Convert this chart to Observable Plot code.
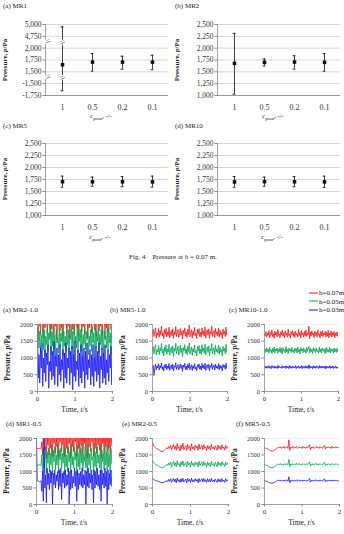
<!DOCTYPE html>
<html><head><meta charset="utf-8">
<script src="https://cdn.jsdelivr.net/npm/d3@7"></script>
<script src="https://cdn.jsdelivr.net/npm/@observablehq/plot@0.6"></script>
<style>
body{margin:0;background:#fff;}
#root{position:relative;width:344px;height:534px;overflow:hidden;font-family:"Liberation Serif",serif;color:#222;}
.abs{position:absolute;white-space:nowrap;line-height:1;}
.plot{position:absolute;}
.plot svg{overflow:visible;}
</style></head><body><div id="root"></div>
<script>
// ---------- Fig. 4 : pressure at h = 0.07 m ----------
const cpour = ["1", "0.5", "0.2", "0.1"];
const mr1Ticks = [-1750, -1500, 1500, 1750, 2000, 4750, 5000];
const mr1Mean  = [1650, 1705, 1705, 1705];
const mr1Upper = [4950, 1885, 1830, 1850];
const mr1Lower = [-1650, 1515, 1555, 1545];
const mrTicks  = [1000, 1250, 1500, 1750, 2000, 2250, 2500];
const mr2Mean  = [1680, 1700, 1707, 1700];
const mr2Upper = [2312, 1771, 1840, 1884];
const mr2Lower = [1028, 1623, 1557, 1514];
const mr5Mean  = [1705, 1702, 1702, 1700];
const mr5Upper = [1820, 1800, 1810, 1820];
const mr5Lower = [1590, 1610, 1600, 1590];
const mr10Mean  = [1700, 1705, 1702, 1700];
const mr10Upper = [1810, 1800, 1810, 1820];
const mr10Lower = [1590, 1610, 1600, 1585];
const fig4Titles = ["(a) MR1", "(b) MR2", "(c) MR5", "(d) MR10"];

// ---------- time series (0–2 s, evenly sampled), pressure in Pa ----------
const seriesNames = ["h=0.07m", "h=0.05m", "h=0.03m"];
const seriesColors = ["#ff1010", "#00a650", "#1414ff"];
const timeTicks = [0, 1, 2];
const pressTicks = [0, 500, 1000, 1500, 2000];
const fig5Titles = ["(a) MR2-1.0", "(b) MR5-1.0", "(c) MR10-1.0", "(d) MR1-0.5", "(e) MR2-0.5", "(f) MR5-0.5"];

const mr2_10_h07 = [1800,2300,1950,2450,1700,2200,2050,2400,1600,2350,1900,2150,2500,1750,2250,2000,2400,1650,2300,1850,
2450,2100,1700,2350,1950,2250,1550,2400,2050,2200,1800,2500,1900,2300,1650,2150,2400,2000,2350,1750,
2250,1950,2450,1600,2300,2100,2400,1850,2200,1700,2450,2000,2300,1900,2500,1650,2250,2100,2400,1800,
2350,1950,2150,1700,2450,2050,2300,1600,2400,1900,2200,2500,1750,2300,2000,2450,1850,2250,1650,2400,
2100,2350,1800,2200,1950,2500,1700,2300,2050,2400,1600,2250,1900,2450,1750,2350,2000,2200,1850,2400,1800];
const mr2_10_h05 = [1600,1950,1300,1800,1150,1700,1450,2000,1250,1850,1050,1650,1400,1900,1200,1750,1550,2050,1100,1800,
1350,1950,1250,1700,1000,1850,1450,1600,1150,2000,1300,1750,1500,1900,1050,1800,1350,1650,1200,1950,
1400,1850,1100,1700,1550,2000,1250,1800,1000,1900,1450,1650,1300,2050,1150,1750,1500,1850,1200,1950,
1050,1700,1400,1900,1250,1800,1550,2000,1100,1650,1350,1850,1200,1950,1450,1750,1000,1900,1300,1800,
1500,2000,1150,1700,1400,1850,1250,1950,1050,1800,1550,1650,1300,1900,1200,2050,1450,1750,1100,1850,1500];
const mr2_10_h03 = [1900,400,1100,250,1300,700,1450,150,1000,550,1250,300,1150,800,1400,100,900,600,1350,350,
1200,450,1500,200,1050,750,1300,150,1100,500,1400,300,950,650,1250,100,1150,400,1450,250,
1000,700,1300,200,1200,550,1350,50,1100,450,1500,300,900,650,1250,150,1150,400,1400,250,
1050,600,1300,100,1200,500,1450,350,950,700,1250,200,1100,450,1400,150,1000,600,1350,300,
1200,500,1450,100,1050,650,1300,250,1150,400,1400,200,950,550,1250,300,1100,700,1350,200,1200];

const mr5_10_h07 = [1720,1850,1640,1780,1900,1600,1750,1680,1880,1620,1810,1700,1950,1650,1760,1580,1840,1710,1890,1630,
1780,1670,1920,1600,1740,1820,1660,1870,1590,1790,1700,1940,1640,1760,1850,1610,1730,1880,1680,1800,
1570,1830,1720,1900,1650,1770,1610,1860,1700,1980,1630,1750,1840,1600,1790,1690,1910,1660,1740,1580,
1850,1720,1880,1640,1770,1620,1900,1700,1810,1650,1930,1600,1760,1840,1680,1870,1590,1790,1720,1950,
1640,1750,1820,1610,1880,1700,1780,1660,1900,1620,1830,1690,1760,1580,1870,1710,1800,1640,1920,1680,1740];
const mr5_10_h05 = [1200,1340,1120,1280,1400,1090,1250,1180,1370,1100,1300,1210,1430,1140,1260,1060,1330,1190,1390,1110,
1270,1170,1410,1080,1240,1320,1150,1360,1050,1290,1200,1440,1130,1250,1350,1090,1220,1380,1160,1300,
1040,1310,1210,1400,1140,1270,1100,1350,1190,1450,1120,1240,1330,1080,1280,1180,1390,1150,1230,1060,
1340,1210,1370,1130,1260,1110,1400,1190,1300,1140,1420,1090,1250,1330,1170,1360,1070,1280,1210,1430,
1130,1240,1310,1100,1370,1190,1270,1150,1390,1110,1320,1180,1250,1060,1350,1200,1290,1130,1410,1170,1220];
const mr5_10_h03 = [720,780,480,690,810,650,760,700,830,640,770,710,850,660,740,620,800,700,820,650,
760,690,840,630,750,790,670,810,610,770,720,860,660,740,800,640,730,820,690,780,
600,790,720,840,660,760,640,810,700,850,650,740,800,630,770,690,830,670,730,620,
800,720,820,660,760,640,840,700,780,670,850,630,750,800,690,810,620,770,720,840,
660,740,790,640,820,700,760,680,830,650,790,690,750,610,810,720,780,660,840,690,720];

const mr10_10_h07 = [1720,1660,1790,1620,1740,1680,1820,1600,1760,1700,1840,1640,1730,1590,1800,1690,1770,1630,1850,1670,
1710,1610,1780,1700,1830,1650,1750,1600,1810,1680,1740,1620,1860,1660,1720,1590,1790,1700,1820,1640,
1760,1610,1800,1680,1730,1630,1850,1670,1770,1600,1820,1690,1740,1620,1790,1660,1830,1640,1760,1700,
1950,1580,1780,1650,1810,1690,1740,1610,1800,1670,1760,1630,1840,1680,1720,1600,1790,1660,1820,1640,
1750,1690,1800,1620,1770,1650,1830,1600,1740,1680,1810,1630,1760,1670,1790,1610,1740,1660,1780,1640,1700];
const mr10_10_h05 = [1210,1260,1160,1300,1190,1270,1140,1320,1200,1250,1130,1290,1180,1330,1150,1270,1210,1300,1140,1260,
1190,1320,1160,1280,1120,1310,1200,1250,1150,1340,1180,1270,1130,1300,1210,1260,1160,1320,1190,1240,
1140,1300,1200,1280,1150,1330,1180,1260,1120,1310,1210,1270,1160,1300,1190,1250,1140,1320,1200,1280,
1350,1150,1290,1180,1260,1130,1310,1200,1270,1160,1300,1190,1240,1140,1320,1180,1270,1150,1300,1210,
1260,1160,1290,1130,1310,1190,1250,1170,1320,1150,1280,1200,1260,1140,1300,1180,1270,1160,1290,1190,1220];
const mr10_10_h03 = [730,700,760,690,745,710,770,695,740,680,775,715,750,690,765,705,740,685,780,700,
755,710,735,690,770,700,750,715,765,685,760,705,745,680,775,700,750,690,760,710,
740,695,770,685,750,710,765,690,740,700,775,680,755,710,745,690,770,700,750,685,
800,690,760,705,745,680,770,700,755,690,765,710,740,685,775,700,750,695,760,705,
745,690,765,680,755,705,740,695,770,690,750,700,760,685,745,710,755,690,740,700,710];

const mr1_05_h07 = [1700,1700,1690,1700,1710,1680,1700,1900,1500,2200,1650,1750,2300,1400,2100,1800,2250,1500,2000,1700,
2350,1450,2150,1850,2300,1550,2050,1750,2400,1400,2200,1900,2300,1600,2100,1800,2350,1450,2250,1700,
2050,1550,2300,1850,2150,1400,2400,1750,2000,1600,2300,1900,2150,1450,2350,1700,2100,1550,2250,1800,
2400,1500,2050,1850,2300,1650,2200,1400,2350,1750,2100,1600,2250,1900,2000,1450,2400,1700,2150,1550,
2300,1800,2050,1650,2350,1400,2200,1850,2100,1550,2300,1750,2150,1600,2400,1700,2050,1500,2250,1800,1700];
const mr1_05_h05 = [1200,1200,1190,1210,1200,1180,1200,1500,900,1700,1100,1300,1750,950,1600,1250,1700,1000,1550,1200,
1800,900,1650,1300,1750,1050,1500,1200,1850,950,1650,1350,1700,1100,1550,1250,1800,900,1700,1150,
1500,1000,1750,1300,1600,950,1850,1200,1450,1100,1750,1350,1600,900,1800,1150,1550,1050,1700,1250,
1850,1000,1500,1300,1750,1100,1650,950,1800,1200,1550,1050,1700,1350,1450,900,1850,1150,1600,1000,
1750,1250,1500,1100,1800,950,1650,1300,1550,1050,1750,1200,1600,1000,1850,1150,1500,950,1700,1250,1200];
const mr1_05_h03 = [2000,720,700,710,690,700,720,400,1000,100,2000,500,900,50,1100,600,950,450,1050,650,
1000,0,950,600,1050,500,900,700,1000,450,1050,550,1100,150,950,650,1000,500,1050,550,
900,600,1100,0,1000,450,1050,500,850,650,1100,550,1000,100,1050,450,950,600,1000,550,
1100,500,900,600,1050,0,1000,550,1100,500,950,650,1050,450,900,50,1050,500,1000,600,
1100,550,900,450,1050,100,1050,600,950,500,1100,550,1000,0,1050,450,950,600,1050,550,600];

const mr2_05_h07 = [1880,1800,1750,1720,1700,1690,1670,1650,1630,1610,1600,1610,1630,1660,1690,1720,1680,1760,1700,1790,
1650,1740,1820,1680,1770,1640,1850,1700,1750,1620,1800,1690,1860,1660,1730,1780,1640,1820,1700,1760,
1620,1840,1690,1750,1650,1800,1710,1770,1640,1830,1680,1740,1790,1660,1810,1700,1750,1630,1790,1690,
1760,1650,1820,1700,1740,1660,1780,1710,1640,1800,1690,1760,1660,1810,1700,1740,1650,1790,1700,1750,1720];
const mr2_05_h05 = [1340,1280,1240,1220,1200,1190,1170,1150,1130,1120,1110,1120,1140,1160,1190,1220,1180,1260,1200,1290,
1150,1240,1310,1180,1270,1140,1330,1200,1250,1130,1300,1190,1320,1160,1230,1280,1140,1310,1200,1260,
1130,1320,1190,1250,1150,1290,1210,1270,1140,1310,1180,1240,1290,1160,1300,1200,1250,1130,1290,1190,
1260,1150,1310,1200,1240,1160,1280,1210,1140,1300,1190,1260,1160,1300,1200,1240,1150,1290,1200,1250,1220];
const mr2_05_h03 = [790,760,740,730,720,710,700,690,680,670,660,665,675,690,705,720,690,760,700,780,
670,740,790,690,770,660,800,700,750,670,780,690,795,680,730,770,660,790,700,760,
670,800,690,750,680,780,710,760,660,790,690,740,780,680,790,700,750,670,780,690,
760,680,790,700,740,680,770,710,670,780,690,760,680,790,700,740,670,780,700,750,720];

const mr5_05_h07 = [1720,1710,1700,1690,1670,1650,1640,1630,1620,1620,1630,1650,1680,1700,1720,1740,1710,1750,1700,1740,
1710,1760,1700,1730,1750,1700,1960,1640,1740,1710,1760,1700,1740,1720,1760,1700,1730,1750,1710,1740,
1700,1760,1720,1740,1700,1750,1720,1740,1810,1660,1740,1710,1750,1700,1730,1760,1710,1740,1700,1750,
1720,1740,1700,1760,1790,1680,1740,1710,1750,1720,1740,1700,1760,1720,1740,1710,1750,1720,1740,1710,1720];
const mr5_05_h05 = [1210,1200,1190,1180,1160,1140,1130,1120,1120,1120,1130,1150,1180,1200,1220,1230,1200,1240,1200,1230,
1200,1240,1200,1220,1240,1200,1370,1150,1230,1200,1240,1200,1230,1210,1250,1200,1220,1240,1200,1230,
1200,1240,1210,1230,1200,1240,1210,1230,1290,1170,1230,1200,1240,1200,1220,1250,1200,1230,1200,1240,
1210,1230,1200,1250,1280,1180,1230,1200,1240,1210,1230,1200,1240,1210,1230,1200,1240,1210,1230,1200,1220];
const mr5_05_h03 = [720,715,705,695,680,665,655,650,650,650,660,675,695,715,730,740,710,745,705,735,
710,745,705,730,745,705,840,660,735,705,745,705,735,715,750,705,730,745,710,735,
705,745,715,735,705,745,715,735,790,680,735,705,745,705,730,750,710,735,705,745,
715,735,705,750,780,690,735,705,745,715,735,705,745,715,735,710,745,715,735,705,720];

const root = document.getElementById("root");
const FONT = "Liberation Serif, Times New Roman, serif";

function addText(html, x, y, {size = 7, anchor = "left", rotate = 0, weight = "normal", color = "#222"} = {}) {
  const d = document.createElement("div");
  d.className = "abs";
  d.innerHTML = html;
  d.style.left = x + "px";
  d.style.top = y + "px";
  d.style.fontSize = size + "px";
  d.style.fontWeight = weight;
  d.style.color = color;
  const tx = anchor === "center" ? "-50%" : "0";
  d.style.transform = rotate ? `translate(-50%,-50%) rotate(${rotate}deg)` : `translate(${tx},-50%)`;
  root.appendChild(d);
  return d;
}
function place(svg, left, top) {
  const w = document.createElement("div");
  w.className = "plot";
  w.style.left = left + "px";
  w.style.top = top + "px";
  w.appendChild(svg);
  root.appendChild(w);
}

// piecewise position along the (possibly broken) value axis, in tick-interval units
function toUnit(v, ticks) {
  for (let i = 0; i < ticks.length - 1; i++) {
    if (v <= ticks[i + 1] || i === ticks.length - 2) return i + (v - ticks[i]) / (ticks[i + 1] - ticks[i]);
  }
}

function errorPanel({left, top, height, mt, mb, ticks, mean, upper, lower}) {
  const n = ticks.length;
  const rows = cpour.map((c, i) => ({c, m: toUnit(mean[i], ticks), hi: toUnit(upper[i], ticks), lo: toUnit(lower[i], ticks)}));
  const steps = d3.pairs(ticks, (a, b) => b - a);
  const common = d3.mode(steps);
  const breaks = steps.map((s, i) => (s !== common ? i + 0.5 : null)).filter(d => d !== null);
  const barBreaks = [];
  for (const r of rows) for (const b of breaks) if (r.lo < b && r.hi > b) barBreaks.push({c: r.c, y: b});
  const ink = "#111";
  const svg = Plot.plot({
    width: 172, height, marginLeft: 45, marginRight: 4, marginTop: mt, marginBottom: mb,
    style: {fontFamily: FONT, fontSize: "7.5px", color: "#333", background: "transparent"},
    x: {type: "band", domain: cpour, padding: 0},
    y: {domain: [0, n - 1]},
    marks: [
      Plot.gridY(d3.range(n), {stroke: "#c6c6c6", strokeOpacity: 1, strokeWidth: 0.7}),
      Plot.ruleY([0], {stroke: "#8a8a8a", strokeWidth: 0.8}),
      Plot.frame({anchor: "left", stroke: "#8a8a8a", strokeWidth: 0.8}),
      Plot.axisY(d3.range(n), {tickFormat: i => ticks[i].toLocaleString("en-US"), tickSize: 2.5, tickPadding: 1.5, stroke: "#8a8a8a", label: null, fontSize: 7.5}),
      Plot.axisX({tickSize: 0, tickPadding: 9, label: null, fontSize: 8}),
      Plot.ruleX(rows, {x: "c", y1: "lo", y2: "hi", stroke: ink, strokeWidth: 0.8}),
      Plot.tickY(rows, {x: "c", y: "hi", insetLeft: 13.6, insetRight: 13.6, stroke: ink, strokeWidth: 0.9}),
      Plot.tickY(rows, {x: "c", y: "lo", insetLeft: 13.6, insetRight: 13.6, stroke: ink, strokeWidth: 0.9}),
      Plot.dot(rows, {x: "c", y: "m", symbol: "square", r: 2, fill: ink}),
      Plot.text(breaks, {y: d => d, frameAnchor: "left", text: () => "=", rotate: -25, fontSize: 10, fill: "#444", stroke: "white", strokeWidth: 2}),
      Plot.text(barBreaks, {x: "c", y: "y", text: () => "=", rotate: -25, fontSize: 10, fill: "#444", stroke: "white", strokeWidth: 2})
    ]
  });
  place(svg, left, top);
}

// Fig. 4 panels
errorPanel({left: 0, top: 0, height: 112, mt: 24, mb: 17, ticks: mr1Ticks, mean: mr1Mean, upper: mr1Upper, lower: mr1Lower});
errorPanel({left: 172, top: 0, height: 112, mt: 24, mb: 17, ticks: mrTicks, mean: mr2Mean, upper: mr2Upper, lower: mr2Lower});
errorPanel({left: 0, top: 119, height: 113, mt: 24, mb: 17, ticks: mrTicks, mean: mr5Mean, upper: mr5Upper, lower: mr5Lower});
errorPanel({left: 172, top: 119, height: 113, mt: 24, mb: 17, ticks: mrTicks, mean: mr10Mean, upper: mr10Upper, lower: mr10Lower});

const f4pos = [[3, 6, 5, 60, 101, 117], [175, 6, 177, 60, 273, 117], [3, 126, 5, 179, 100, 238], [175, 126, 177, 179, 272, 238]];
fig4Titles.forEach((t, i) => {
  const [tx, ty, lx, ly, cx, cy] = f4pos[i];
  addText(t, tx, ty, {size: 7});
  addText("Pressure, <i>p</i>/Pa", lx, ly, {size: 7, rotate: -90, weight: "bold"});
  addText("<i>c</i><sub style='font-size:5px'>pour</sub>, -/-", cx, cy, {size: 6.5, anchor: "center"});
});
addText("Fig. 4&nbsp;&nbsp;&nbsp; Pressure at <i>h</i> = 0.07 m.", 173, 257, {size: 7, anchor: "center"});

// ---------- time-series panels ----------
function tsPanel({plotLeft, plotRight, yTop, yBottom, data}) {
  const mL = 30, mR = 4, mT = 5, mB = 14;
  const pw = plotRight - plotLeft, ph = yBottom - yTop;
  const svg = Plot.plot({
    width: mL + pw + mR, height: mT + ph + mB, marginLeft: mL, marginRight: mR, marginTop: mT, marginBottom: mB,
    style: {fontFamily: FONT, fontSize: "6.5px", color: "#333", background: "transparent"},
    x: {domain: [0, 2]},
    y: {domain: [0, 2000]},
    marks: [
      Plot.gridY(pressTicks, {stroke: "#e4e4e4", strokeOpacity: 1, strokeWidth: 0.6}),
      ...data.map((values, k) => Plot.line(values, {x: (d, i) => i * 2 / (values.length - 1), y: d => d, stroke: seriesColors[k], strokeWidth: 0.8, clip: true})),
      Plot.ruleX([0], {stroke: "#8a8a8a", strokeWidth: 0.8}),
      Plot.ruleY([0], {stroke: "#8a8a8a", strokeWidth: 0.8}),
      Plot.axisY(pressTicks, {tickFormat: d => String(d), tickSize: 2.5, tickPadding: 2, stroke: "#8a8a8a", label: null, fontSize: 6.5}),
      Plot.axisX(timeTicks, {tickFormat: d => String(d), tickSize: 2.5, tickPadding: 2, stroke: "#8a8a8a", label: null, fontSize: 7})
    ]
  });
  place(svg, plotLeft - mL, yTop - mT);
}

const f5layout = [
  {plotLeft: 37, plotRight: 112, yTop: 324, yBottom: 391, tx: 3, ty: 310},
  {plotLeft: 152, plotRight: 227, yTop: 324, yBottom: 391, tx: 110, ty: 310},
  {plotLeft: 264, plotRight: 338, yTop: 324, yBottom: 391, tx: 229, ty: 310},
  {plotLeft: 36, plotRight: 112, yTop: 438, yBottom: 504, tx: 6, ty: 424},
  {plotLeft: 152, plotRight: 228, yTop: 438, yBottom: 504, tx: 122, ty: 424},
  {plotLeft: 264, plotRight: 339, yTop: 438, yBottom: 504, tx: 236, ty: 424}
];
const f5data = [
  [mr2_10_h07, mr2_10_h05, mr2_10_h03],
  [mr5_10_h07, mr5_10_h05, mr5_10_h03],
  [mr10_10_h07, mr10_10_h05, mr10_10_h03],
  [mr1_05_h07, mr1_05_h05, mr1_05_h03],
  [mr2_05_h07, mr2_05_h05, mr2_05_h03],
  [mr5_05_h07, mr5_05_h05, mr5_05_h03]
];
f5layout.forEach((L, i) => {
  tsPanel({...L, data: f5data[i]});
  addText(fig5Titles[i], L.tx, L.ty, {size: 7});
  addText("Pressure, <i>p</i>/Pa", L.plotLeft - 29, (L.yTop + L.yBottom) / 2, {size: 7.5, rotate: -90, weight: "bold"});
  addText("Time, <i>t</i>/s", (L.plotLeft + L.plotRight) / 2, L.yBottom + 19, {size: 7.5, anchor: "center"});
});

// legend
seriesNames.forEach((name, k) => {
  addText(`<span style="display:inline-block;width:9px;border-top:1px solid ${seriesColors[k]};vertical-align:middle;margin-right:1px"></span>${name}`, 309, 293 + k * 8.5, {size: 7});
});
</script></body></html>
